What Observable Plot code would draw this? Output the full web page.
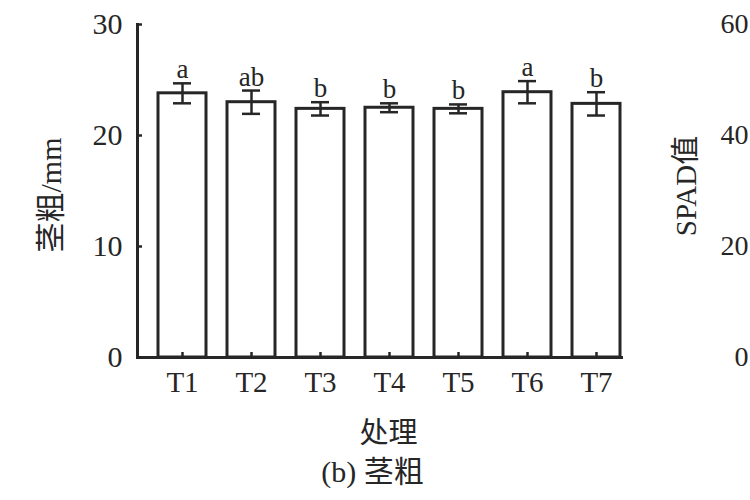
<!DOCTYPE html>
<html>
<head>
<meta charset="utf-8">
<script src="https://cdn.jsdelivr.net/npm/d3@7"></script>
<script src="https://cdn.jsdelivr.net/npm/@observablehq/plot@0.6"></script>
<style>
  html, body { margin: 0; padding: 0; background: #fff; }
  svg { display: block; }
</style>
</head>
<body>
<div id="chart"></div>
<script>
// Treatments and stem diameter (mm), with error and significance letters
const treatments = ["T1", "T2", "T3", "T4", "T5", "T6", "T7"];
const stemMean   = [23.8, 23.0, 22.4, 22.5, 22.4, 23.9, 22.85];
const stemErr    = [0.9, 1.05, 0.6, 0.4, 0.4, 1.0, 1.05];
const sigLetters = ["a", "ab", "b", "b", "b", "a", "b"];
const yTicks     = [0, 10, 20, 30];
// neighbouring panel (SPAD) tick labels, at the right edge
const spadTicks  = [0, 20, 40, 60];

const data = treatments.map((t, i) => ({
  t, mean: stemMean[i], lo: stemMean[i] - stemErr[i], hi: stemMean[i] + stemErr[i], sig: sigLetters[i]
}));

const serif = "'Liberation Serif', 'Times New Roman', 'Noto Sans CJK SC', serif";
const ink = "#262626";

const chart = Plot.plot({
  width: 750,
  height: 500,
  marginTop: 24,
  marginBottom: 143,
  marginLeft: 137,
  marginRight: 127,
  style: { fontFamily: serif, color: ink, background: "#fff", overflow: "hidden" },
  x: { domain: treatments, range: [137, 642], padding: 0.3 },
  y: { domain: [0, 30] },
  marks: [
    Plot.barY(data, { x: "t", y: "mean", fill: "#fff", stroke: ink, strokeWidth: 3 }),
    Plot.ruleX(data, { x: "t", y1: "lo", y2: "hi", stroke: ink, strokeWidth: 2.5 }),
    Plot.tickY(data, { x: "t", y: "hi", stroke: ink, strokeWidth: 2.5, insetLeft: 15, insetRight: 15 }),
    Plot.tickY(data, { x: "t", y: "lo", stroke: ink, strokeWidth: 2.5, insetLeft: 15, insetRight: 15 }),
    Plot.text(data, { x: "t", y: "hi", text: "sig", dy: -5, lineAnchor: "bottom", fontSize: 27, fill: ink }),
    Plot.ruleY([0], { stroke: ink, strokeWidth: 3 }),
    Plot.frame({ anchor: "left", stroke: ink, strokeWidth: 3 }),
    Plot.axisY({ ticks: yTicks, tickSize: -5, tickPadding: 20, strokeWidth: 2.5, fontSize: 30, label: null }),
    Plot.axisX({ tickSize: -5, tickPadding: 19, strokeWidth: 2.5, fontSize: 29, label: null }),
    Plot.text(["茎粗/mm"], { frameAnchor: "left", dx: -86, dy: 4, rotate: -90, textAnchor: "middle", fontSize: 30, fill: ink }),
    Plot.text(["处理"], { frameAnchor: "bottom", dx: 8, dy: 76, lineAnchor: "middle", fontSize: 29, fill: ink }),
    Plot.text(["(b) 茎粗"], { frameAnchor: "bottom", dx: -8, dy: 115, lineAnchor: "middle", fontSize: 30, fill: ink }),
    Plot.text(["SPAD值"], { frameAnchor: "right", dx: 63, dy: -5, rotate: -90, textAnchor: "middle", fontSize: 29, fill: ink }),
    Plot.text(spadTicks, { y: d => d / 2, text: d => String(d), frameAnchor: "right", dx: 125, textAnchor: "end", fontSize: 28, fill: ink })
  ]
});
document.getElementById("chart").appendChild(chart);
</script>
</body>
</html>
